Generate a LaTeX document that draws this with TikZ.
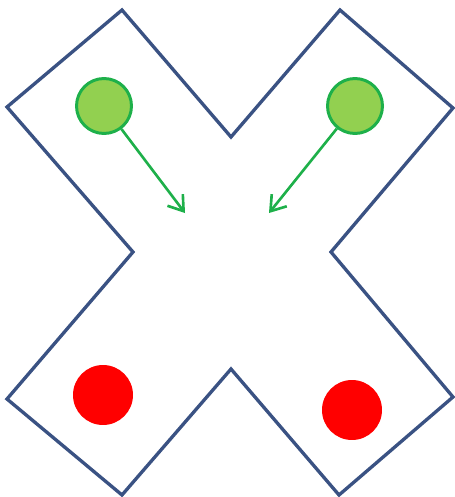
\documentclass[tikz,border=0pt]{standalone}
\usetikzlibrary{arrows.meta}
\definecolor{xline}{HTML}{3A5283}
\definecolor{ballgreen}{HTML}{92D050}
\definecolor{ringgreen}{HTML}{1EB04A}
\definecolor{ballred}{HTML}{FF0000}
\tikzset{
  gball/.style={circle, draw=ringgreen, fill=ballgreen, line width=1.7pt,
                minimum size=1.1cm, inner sep=0pt},
  rball/.style={circle, fill=ballred, minimum size=1.2cm, inner sep=0pt},
  arr/.style={-{Straight Barb[length=8pt,width=11pt]}, line width=1.5pt, ringgreen},
  outline/.style={draw=xline, line width=1.9pt, line join=miter},
}

\begin{document}
\begin{tikzpicture}[x=0.02cm, y=-0.02cm]
  \useasboundingbox (0,0) rectangle (454,497);

  % X outline
  \draw[outline] (122,10) -- (231,137) -- (340,10) -- (453,108) -- (331,252)
    -- (453,397) -- (339,495) -- (231,369) -- (122,495) -- (7,399)
    -- (133,252) -- (7,107) -- cycle;

  % Green balls (top)
  \node[gball] (gl) at (104,106) {};
  \node[gball] (gr) at (355,106) {};

  % Red balls (bottom)
  \node[rball] (rl) at (103,395) {};
  \node[rball] (rr) at (352,410) {};

  % Arrow tips
  \coordinate (gltip) at (185,213);
  \coordinate (grtip) at (269,213);

  % Arrows
  \draw[arr] (gl) -- (gltip);
  \draw[arr] (gr) -- (grtip);
\end{tikzpicture}
\end{document}
